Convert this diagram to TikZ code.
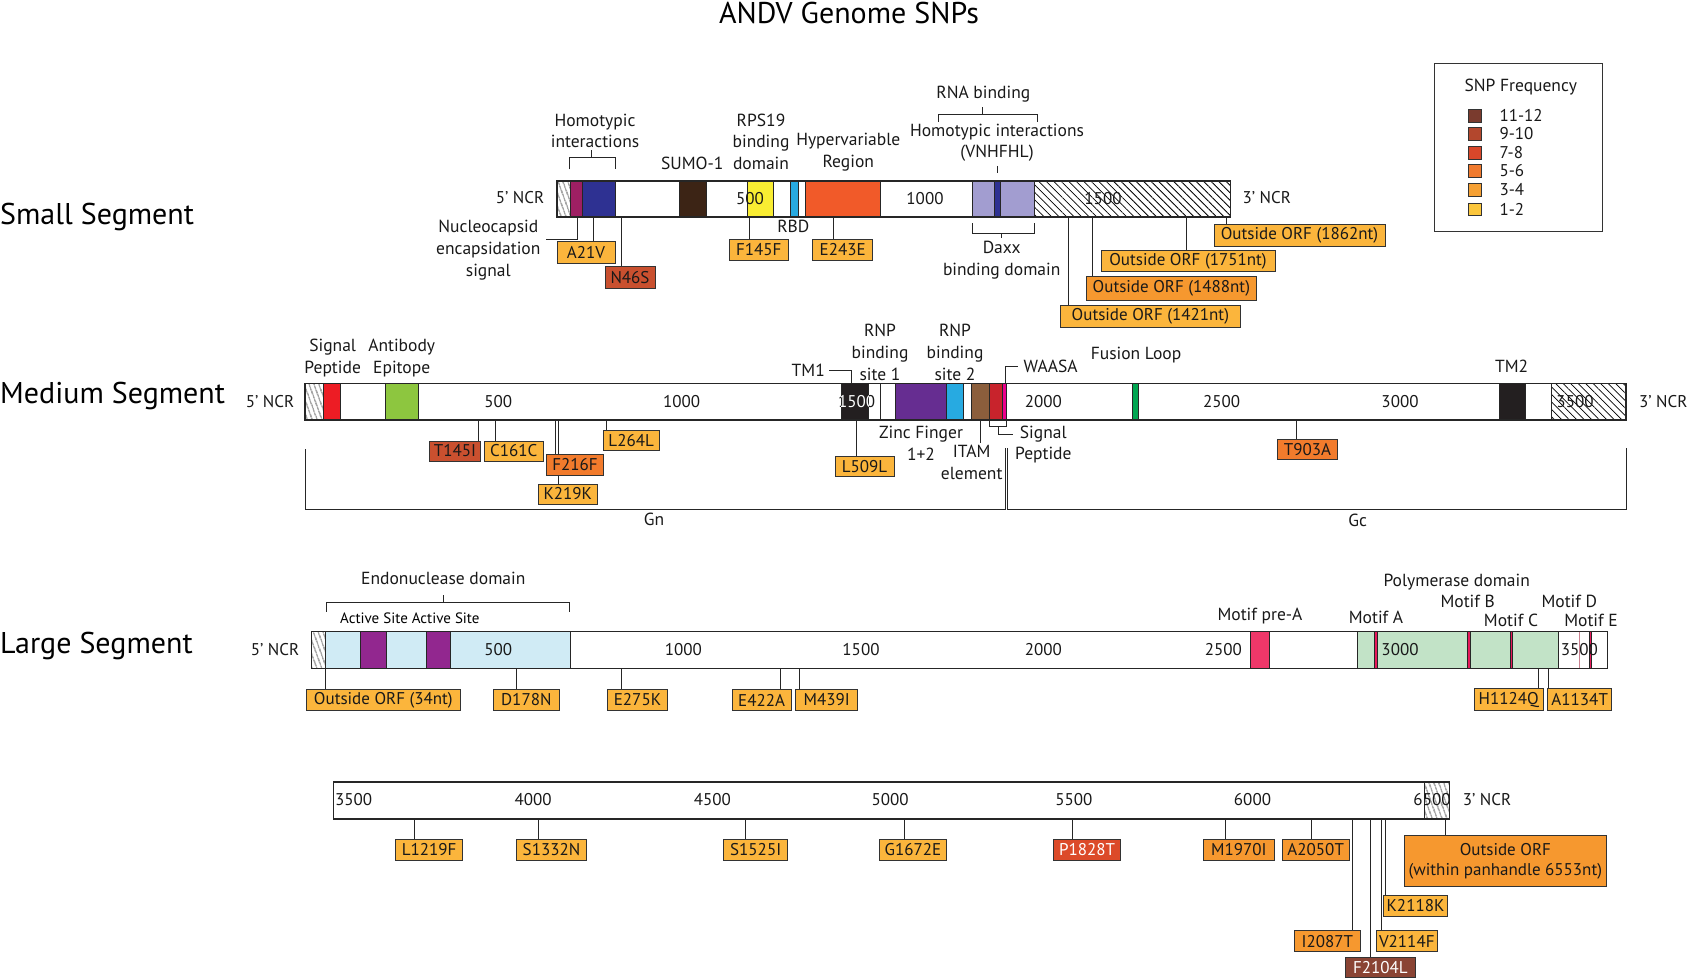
\documentclass[tikz,border=0pt]{standalone}
\usepackage{fontspec}
\setmainfont{PT Sans}
\usetikzlibrary{patterns.meta}
\pgfdeclarelayer{bg}
\pgfsetlayers{bg,main}
\definecolor{cOne}{HTML}{FBB53C}
\definecolor{cTwo}{HTML}{F6982F}
\definecolor{cThree}{HTML}{F27B2C}
\definecolor{cFour}{HTML}{DC4A29}
\definecolor{cFive}{HTML}{C9502F}
\definecolor{cSix}{HTML}{8A4434}
\definecolor{lOne}{HTML}{FBC63C}
\definecolor{lTwo}{HTML}{F5A033}
\definecolor{lThree}{HTML}{F07A2E}
\definecolor{lFour}{HTML}{D9472A}
\definecolor{lFive}{HTML}{B3472D}
\definecolor{lSix}{HTML}{7A3B2E}
\definecolor{gMag}{HTML}{9E1F63}
\definecolor{gNavy}{HTML}{2E3192}
\definecolor{gSumo}{HTML}{3C2415}
\definecolor{gYel}{HTML}{F9ED32}
\definecolor{gCyan}{HTML}{27AAE1}
\definecolor{gOra}{HTML}{F15A29}
\definecolor{gLav}{HTML}{A29DD0}
\definecolor{gRed}{HTML}{ED1C24}
\definecolor{gGreen}{HTML}{8DC63F}
\definecolor{gBlack}{HTML}{231F20}
\definecolor{gPurp}{HTML}{662D91}
\definecolor{gBrown}{HTML}{8B5E3C}
\definecolor{gCrim}{HTML}{C8232C}
\definecolor{gPink}{HTML}{EC008C}
\definecolor{gFus}{HTML}{00A651}
\definecolor{gLBlue}{HTML}{D0EBF5}
\definecolor{gVio}{HTML}{92278F}
\definecolor{gPreA}{HTML}{EE3769}
\definecolor{gLGreen}{HTML}{C2E3C7}
\definecolor{gMot}{HTML}{E6195A}
\definecolor{gMotD}{HTML}{C98090}
\newcommand\fTitle{\fontsize{30}{34}\selectfont}
\newcommand\fSeg{\fontsize{30}{34}\selectfont}
\newcommand\fLab{\fontsize{17.5}{21.7}\selectfont}
\newcommand\fSnp{\fontsize{17}{20}\selectfont}
\newcommand\fSml{\fontsize{15}{18}\selectfont}
\newcommand\snpb[9]{%
  \node[snp,#6,minimum width={#4-#2},minimum height={#5-#3}] (#1) at ({(#2+#4)/2},{(#3+#5)/2}) {#7};
  \begin{pgfonlayer}{bg}\draw[conn] (#1.north -| #8,0) -- (#8,#9);\end{pgfonlayer}}
\begin{document}
\begin{tikzpicture}[x=1pt,y=-1pt,
  conn/.style={draw=black!85,line width=1pt},
  barline/.style={draw=black!85,line width=1.2pt},
  segl/.style={draw=black!85,line width=1pt},
  snp/.style={draw=black!80,line width=1pt,inner sep=0pt,font=\fSnp,text=black!90},
  lab/.style={font=\fLab,align=center,inner sep=0pt,text=black!90},
  tick/.style={font=\fSnp,inner sep=0pt,text=black!90},
  hatchw/.style={pattern={Lines[angle=-45,distance=5.3pt,line width=0.8pt]}},
  hatchs/.style={pattern={Lines[angle=-70,distance=4pt,line width=0.8pt]}},
  lsq/.style={draw=black!80,line width=0.8pt,minimum size=12.7pt,inner sep=0pt},
  ltxt/.style={font=\fSnp,anchor=west,inner sep=0pt,text=black!90}]
\useasboundingbox (0,0) rectangle (1687,979);
\begin{pgfonlayer}{bg}
\fill[white] (0,0) rectangle (1687,979);
\end{pgfonlayer}

% title and segment names
\node[font=\fTitle,inner sep=0pt] (title) at (849,13) {ANDV Genome SNPs};
\node[font=\fSeg,anchor=west,inner sep=0pt] (segS) at (0,217) {Small Segment};
\node[font=\fSeg,anchor=west,inner sep=0pt] (segM) at (0,396) {Medium Segment};
\node[font=\fSeg,anchor=west,inner sep=0pt] (segL) at (0,646) {Large Segment};

% ================= SMALL SEGMENT =================
\draw[barline,fill=white] (557,181) rectangle (1230.7,217);
\fill[hatchs] (557,181) rectangle (570.7,217);
\filldraw[segl,fill=gMag] (570.7,181) rectangle (582.7,217);
\filldraw[segl,fill=gNavy] (582.7,181) rectangle (615.7,217);
\filldraw[segl,fill=gSumo] (679.3,181) rectangle (706.7,217);
\filldraw[segl,fill=gYel] (747.3,181) rectangle (773.3,217);
\filldraw[segl,fill=gCyan] (790,181) rectangle (798,217);
\filldraw[segl,fill=gOra] (805.7,181) rectangle (880.7,217);
\filldraw[segl,fill=gLav] (972.3,181) rectangle (994.3,217);
\filldraw[segl,fill=gNavy] (994.3,181) rectangle (1000.7,217);
\filldraw[segl,fill=gLav] (1000.7,181) rectangle (1034.3,217);
\fill[hatchw] (1034.3,181) rectangle (1230.7,217);
\draw[segl] (1034.3,181) -- (1034.3,217);
\draw[barline] (557,181) rectangle (1230.7,217);
\node[tick] (s500) at (750,199) {500};
\node[tick] (s1000) at (925,199) {1000};
\node[tick] (s1500) at (1103,199) {1500};
\node[tick] (s5) at (520,198) {5’ NCR};
\node[tick] (s3) at (1266.7,198) {3’ NCR};

\node[lab] (homoA) at (595,131) {Homotypic\\interactions};
\draw[conn] (569.3,169.3) -- (569.3,157.3) -- (615.7,157.3) -- (615.7,169.3);
\draw[conn] (591,157.3) -- (591,150);
\node[lab] (sumo) at (692.3,163.3) {SUMO-1};
\node[lab] (rps) at (761,141.7) {RPS19\\binding\\domain};
\node[lab] (hyper) at (848.3,152.5) {Hypervariable\\Region};
\node[lab] (rbd) at (793.3,226.7) {RBD};
\node[lab] (ncap) at (488.3,250) {Nucleocapsid\\encapsidation\\signal};
\coordinate (ncapend) at (546,239);
\draw[conn] (577,217) -- (577,239) -- (ncapend);
\node[lab] (rnab) at (983.3,94.5) {RNA binding};
\draw[conn] (938.3,121.7) -- (938.3,114.3) -- (1037.7,114.3) -- (1037.7,121.7);
\draw[conn] (982.7,114.3) -- (982.7,106.7);
\node[lab] (homoB) at (997,142.8) {Homotypic interactions\\(VNHFHL)};
\draw[conn] (997.3,166) -- (997.3,172.7);
\draw[conn] (972.3,223.3) -- (972.3,233.3) -- (1034.3,233.3) -- (1034.3,223.3);
\draw[conn] (1001.7,233.3) -- (1001.7,238.3);
\node[lab] (daxx) at (1001.7,260) {Daxx\\binding domain};

\snpb{A21V}{557}{241.7}{615}{263.3}{fill=cOne}{A21V}{593.7}{217}
\snpb{N46S}{605}{266.7}{655}{288.3}{fill=cFive}{N46S}{621}{217}
\snpb{F145F}{729.3}{239.3}{788.3}{260.7}{fill=cOne}{F145F}{749.3}{217}
\snpb{E243E}{812.7}{239.3}{872.7}{260.7}{fill=cOne}{E243E}{833.3}{217}
\snpb{O1862}{1214}{224}{1385}{246}{fill=cOne}{Outside ORF (1862nt)}{1226.7}{217}
\snpb{O1751}{1101}{250}{1275}{271.7}{fill=cOne}{Outside ORF (1751nt)}{1186.7}{217}
\snpb{O1488}{1086.7}{276.7}{1256}{300}{fill=cTwo}{Outside ORF (1488nt)}{1092.3}{217}
\snpb{O1421}{1060.7}{305}{1240}{327.7}{fill=cOne}{Outside ORF (1421nt)}{1068.3}{217}

% legend
\node[draw=black!80,line width=1pt,minimum width=168.7pt,minimum height=168.4pt,inner sep=0pt] (legend) at (1518.35,147.5) {};
\node[lab] (legt) at (1520.7,87) {SNP Frequency};
\node[lsq,fill=lSix] (q6) at (1474.7,115.7) {};
\node[lsq,fill=lFive] (q5) at (1474.7,134) {};
\node[lsq,fill=lFour] (q4) at (1474.7,152.7) {};
\node[lsq,fill=lThree] (q3) at (1474.7,170.7) {};
\node[lsq,fill=lTwo] (q2) at (1474.7,190) {};
\node[lsq,fill=lOne] (q1) at (1474.7,209.3) {};
\node[ltxt] (t6) at (1499.3,115.7) {11-12};
\node[ltxt] (t5) at (1499.3,134) {9-10};
\node[ltxt] (t4) at (1499.3,152.7) {7-8};
\node[ltxt] (t3) at (1499.3,170.7) {5-6};
\node[ltxt] (t2) at (1499.3,190) {3-4};
\node[ltxt] (t1) at (1499.3,209.3) {1-2};

% ================= MEDIUM SEGMENT =================
\draw[barline,fill=white] (305,383.3) rectangle (1626,420);
\fill[hatchs] (305,383.3) rectangle (323.3,420);
\filldraw[segl,fill=gRed] (323.3,383.3) rectangle (340.7,420);
\filldraw[segl,fill=gGreen] (385,383.3) rectangle (418.3,420);
\filldraw[segl,fill=gBlack] (841,383.3) rectangle (868.3,420);
\draw[segl] (880,383.3) -- (880,420);
\filldraw[segl,fill=gPurp] (895,383.3) rectangle (946.7,420);
\filldraw[segl,fill=gCyan] (946.7,383.3) rectangle (963.3,420);
\filldraw[segl,fill=gBrown] (971.7,383.3) rectangle (989.3,420);
\filldraw[segl,fill=gCrim] (989.3,383.3) rectangle (1002.3,420);
\filldraw[segl,fill=gPink] (1002.3,383.3) rectangle (1006.7,420);
\filldraw[segl,fill=gFus] (1132.3,383.3) rectangle (1138.3,420);
\filldraw[segl,fill=gBlack] (1499.3,383.3) rectangle (1525,420);
\fill[hatchw] (1551.7,383.3) rectangle (1626,420);
\draw[segl] (1551.7,383.3) -- (1551.7,420);
\draw[barline] (305,383.3) rectangle (1626,420);
\node[tick] (m500) at (498.3,401.7) {500};
\node[tick] (m1000) at (681.7,401.7) {1000};
\node[tick] (m1500) at (856.7,401.7) {1500};
\begin{scope}
\clip (841,383.3) rectangle (868.3,420);
\node[tick,text=white] (m1500w) at (856.7,401.7) {1500};
\end{scope}
\node[tick] (m2000) at (1043.3,401.7) {2000};
\node[tick] (m2500) at (1221.7,401.7) {2500};
\node[tick] (m3000) at (1400,401.7) {3000};
\node[tick] (m3500) at (1575,401.7) {3500};
\node[tick] (m5) at (270,401.7) {5’ NCR};
\node[tick] (m3) at (1663.3,401.7) {3’ NCR};

\node[lab] (sigA) at (332.7,358) {Signal\\Peptide};
\node[lab] (abep) at (401.7,358) {Antibody\\Epitope};
\node[lab,anchor=east] (tm1) at (825,370) {TM1};
\draw[conn] (tm1.east) ++(4,0) -- (851.7,370) -- (851.7,383.3);
\node[lab] (rnp1) at (880,352.5) {RNP\\binding\\site 1};
\node[lab] (rnp2) at (955,352.5) {RNP\\binding\\site 2};
\node[lab,anchor=west] (waasa) at (1023.3,366.7) {WAASA};
\draw[conn] (1005.7,383.3) -- (1005.7,366.7) -- (1018.3,366.7);
\node[lab] (fusion) at (1136,355) {Fusion Loop};
\node[lab] (tm2) at (1511.7,366.7) {TM2};
\node[lab] (zinc) at (921,443.3) {Zinc Finger\\1+2};
\node[lab] (itam) at (971.7,462.5) {ITAM\\element};
\draw[conn] (980,420) -- (980,443);
\draw[conn] (989.3,420) -- (989.3,426.7) -- (1006.7,426.7) -- (1006.7,420);
\draw[conn] (998.3,426.7) -- (998.3,434) -- (1013.3,434);
\node[lab] (sigB) at (1043.3,444.5) {Signal\\Peptide};
\draw[conn] (305,449.3) -- (305,509) -- (1005,509) -- (1005,448.3);
\draw[conn] (1007.7,448.3) -- (1007.7,509) -- (1626,509) -- (1626,448.3);
\node[lab] (gn) at (654,519) {Gn};
\node[lab] (gc) at (1357.7,520) {Gc};

\snpb{T145I}{429.3}{441}{480.7}{461}{fill=cFive}{T145I}{478.3}{420}
\snpb{C161C}{484}{441}{543.3}{461}{fill=cOne}{C161C}{495.7}{420}
\snpb{K219K}{538.3}{484}{597.3}{504}{fill=cOne}{K219K}{558.3}{420}
\snpb{F216F}{546.7}{454.3}{603.3}{475}{fill=cThree}{F216F}{555}{420}
\snpb{L264L}{603.3}{430.7}{659}{450.7}{fill=cOne}{L264L}{606.7}{420}
\snpb{L509L}{835}{456.7}{894}{476.7}{fill=cOne}{L509L}{856}{420}
\snpb{T903A}{1277.3}{439.3}{1337.7}{459.3}{fill=cThree}{T903A}{1296.7}{420}

% ================= LARGE SEGMENT =================
\draw[barline,fill=white] (311.7,631.7) rectangle (1607.3,668.3);
\fill[hatchs] (311.7,631.7) rectangle (325,668.3);
\filldraw[segl,fill=gLBlue] (325,631.7) rectangle (570,668.3);
\filldraw[segl,fill=gVio] (360,631.7) rectangle (386.7,668.3);
\filldraw[segl,fill=gVio] (426,631.7) rectangle (450.7,668.3);
\filldraw[segl,fill=gPreA] (1250,631.7) rectangle (1269.3,668.3);
\filldraw[segl,fill=gLGreen] (1357.7,631.7) rectangle (1558.3,668.3);
\filldraw[segl,fill=gMot] (1374.3,631.7) rectangle (1377.7,668.3);
\filldraw[segl,fill=gMot] (1467.7,631.7) rectangle (1470,668.3);
\filldraw[segl,fill=gMot] (1510.7,631.7) rectangle (1512.7,668.3);
\draw[gMotD,line width=1.2pt] (1579.3,631.7) -- (1579.3,668.3);
\filldraw[segl,fill=gMot] (1589,631.7) rectangle (1591,668.3);
\draw[barline] (311.7,631.7) rectangle (1607.3,668.3);
\node[tick] (l500) at (498.3,650) {500};
\node[tick] (l1000) at (683.3,650) {1000};
\node[tick] (l1500) at (861,650) {1500};
\node[tick] (l2000) at (1043.3,650) {2000};
\node[tick] (l2500) at (1223.3,650) {2500};
\node[tick] (l3000) at (1400,650) {3000};
\node[tick] (l3500) at (1579.3,650) {3500};
\node[tick] (l5) at (275,650) {5’ NCR};

\node[lab] (endo) at (443.3,578.3) {Endonuclease domain};
\draw[conn] (326.7,611.7) -- (326.7,602.7) -- (569.3,602.7) -- (569.3,611.7);
\draw[conn] (443.3,602.7) -- (443.3,595);
\node[font=\fSml,anchor=west,inner sep=0pt] (act) at (340,618.3) {Active Site Active Site};
\node[lab] (prea) at (1260,616.5) {Motif pre-A};
\node[lab] (pold) at (1456.7,581.7) {Polymerase domain};
\node[lab] (motA) at (1376,617.3) {Motif A};
\node[lab] (motB) at (1467.7,601.7) {Motif B};
\node[lab] (motC) at (1511,620) {Motif C};
\node[lab] (motD) at (1569.3,601.7) {Motif D};
\node[lab] (motE) at (1591,620) {Motif E};

\snpb{O34}{306}{689.3}{460.7}{710.7}{fill=cOne}{Outside ORF (34nt)}{325}{668.3}
\snpb{D178N}{493.3}{689.3}{559.3}{710.7}{fill=cOne}{D178N}{516.7}{668.3}
\snpb{E275K}{607.3}{689.3}{667.7}{710.7}{fill=cOne}{E275K}{621}{668.3}
\snpb{E422A}{732.3}{689.3}{791}{710.7}{fill=cOne}{E422A}{780}{668.3}
\snpb{M439I}{795.7}{689.3}{857.7}{710.7}{fill=cOne}{M439I}{799}{668.3}
\snpb{H1124Q}{1474}{688.3}{1543.3}{710.7}{fill=cOne}{H1124Q}{1538.3}{668.3}
\snpb{A1134T}{1547.7}{688.3}{1611.7}{710.7}{fill=cOne}{A1134T}{1548.3}{668.3}

% ================= LARGE SEGMENT (continued) =================
\draw[barline,fill=white] (333.4,782) rectangle (1449.3,819);
\fill[hatchs] (1424.3,782) rectangle (1449.3,819);
\draw[segl] (1424.3,782) -- (1424.3,819);
\draw[barline] (333.4,782) rectangle (1449.3,819);
\node[tick] (b3500) at (353.6,800) {3500};
\node[tick] (b4000) at (533.2,800) {4000};
\node[tick] (b4500) at (712.3,800) {4500};
\node[tick] (b5000) at (890.2,800) {5000};
\node[tick] (b5500) at (1073.9,800) {5500};
\node[tick] (b6000) at (1252.5,800) {6000};
\node[tick] (b6500) at (1432,800) {6500};
\node[tick] (b3) at (1487,800) {3’ NCR};

\snpb{L1219F}{395.8}{839.3}{462.4}{860.7}{fill=cOne}{L1219F}{414.9}{819}
\snpb{S1332N}{516.3}{839.3}{586.7}{860.7}{fill=cOne}{S1332N}{538.9}{819}
\snpb{S1525I}{723.7}{839.3}{787.7}{860.7}{fill=cOne}{S1525I}{745.6}{819}
\snpb{G1672E}{879.5}{839.3}{946.4}{860.7}{fill=cOne}{G1672E}{904.4}{819}
\snpb{P1828T}{1053.6}{839.3}{1120.4}{860.7}{fill=cFour,text=white}{P1828T}{1072.1}{819}
\snpb{M1970I}{1203.6}{839.3}{1274.3}{860.7}{fill=cTwo}{M1970I}{1225.7}{819}
\snpb{A2050T}{1282.1}{839.3}{1349.3}{860.7}{fill=cTwo}{A2050T}{1311.8}{819}
\snpb{I2087T}{1294.6}{930.7}{1360}{951.7}{fill=cTwo}{I2087T}{1352.5}{819}
\snpb{F2104L}{1345.4}{957.3}{1415.4}{977.3}{fill=cSix,text=white}{F2104L}{1370.4}{819}
\snpb{V2114F}{1376.1}{930.7}{1437.5}{951.7}{fill=cOne}{V2114F}{1381.4}{819}
\snpb{K2118K}{1383.9}{895}{1447.1}{916}{fill=cOne}{K2118K}{1385.7}{819}
\snpb{OPan}{1404.3}{835}{1606.4}{886.7}{fill=cTwo,align=center}{Outside ORF\\(within panhandle 6553nt)}{1445.4}{819}
\end{tikzpicture}
\end{document}
